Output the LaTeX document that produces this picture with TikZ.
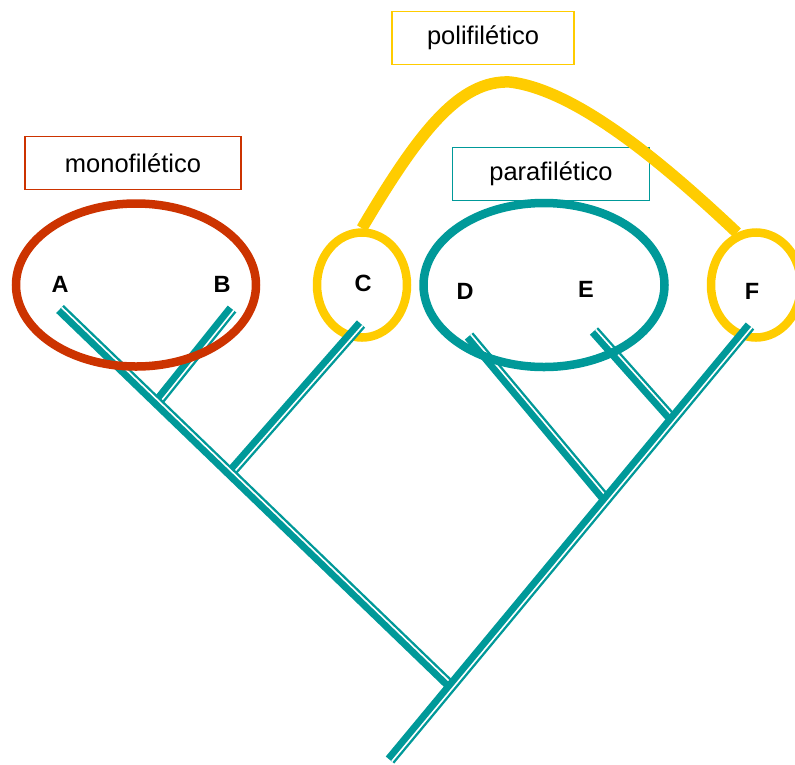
\documentclass[tikz,border=0pt]{standalone}
\usepackage{fontspec}
\setmainfont{Liberation Sans}
\usetikzlibrary{calc,shapes.geometric}
\definecolor{Teal}{HTML}{009999}
\definecolor{Rust}{HTML}{CC3300}
\definecolor{Gold}{HTML}{FFCC00}
\tikzset{
  branch/.style={line width=11pt,color=Teal},
  branchgap/.style={line width=1.6pt,color=white},
  clade/.style={ellipse,draw,line width=8.5pt,inner sep=0pt},
  cladebox/.style={draw,line width=1.8pt,minimum width=#1,minimum height=53pt,
    inner sep=0pt,font=\fontsize{25.5}{30}\selectfont},
  taxon/.style={font=\fontsize{23.5}{28}\selectfont\bfseries},
  arcline/.style={line width=11.5pt,color=Gold}
}
\newcommand\cladebranch[2]{%
  \draw[branch] (#1) -- (#2);
  \draw[branchgap] ($(#1)!2.3pt!-90:(#2)$) -- ($(#2)!2.3pt!90:(#1)$);
}

\begin{document}
\begin{tikzpicture}[x=1pt,y=-1pt]
  \useasboundingbox (0,0) rectangle (795,764);
  % tree
  \coordinate (root) at (390,760);
  \coordinate (ftip) at (750,326);
  \coordinate (atip) at (60,309);
  \coordinate (btip) at (232,309);
  \coordinate (ctip) at (361,324);
  \coordinate (dtip) at (469,336);
  \coordinate (etip) at (594,331);
  \coordinate (rootj) at ($(root)!0.17!(ftip)$);
  \coordinate (dj) at ($(root)!0.6!(ftip)$);
  \coordinate (ej) at ($(root)!0.785!(ftip)$);
  \coordinate (cj) at ($(rootj)!0.565!(atip)$);
  \coordinate (abj) at ($(rootj)!0.752!(atip)$);
  % groups
  \node[clade,draw=Gold,minimum width=90pt,minimum height=105pt] (cladeC) at (362,285) {};
  \node[clade,draw=Gold,minimum width=90pt,minimum height=105pt] (cladeF) at (756,285) {};
  \cladebranch{abj}{btip}
  \cladebranch{cj}{ctip}
  \cladebranch{rootj}{atip}
  \cladebranch{dj}{dtip}
  \cladebranch{ej}{etip}
  \cladebranch{root}{ftip}
  \node[clade,draw=Rust,minimum width=240pt,minimum height=163pt] (cladeAB) at (136,285) {};
  \node[clade,draw=Teal,minimum width=241pt,minimum height=164pt] (cladeDE) at (544,285) {};
  % labels
  \node[taxon] (labA) at (60,284) {A};
  \node[taxon] (labB) at (222,284) {B};
  \node[taxon] (labC) at (363,283) {C};
  \node[taxon] (labD) at (465,291) {D};
  \node[taxon] (labE) at (586,289) {E};
  \node[taxon] (labF) at (752,291) {F};
  \node[cladebox=216pt,draw=Rust] (monobox) at (133,163) {monofilético};
  \node[cladebox=182pt,draw=Gold] (polibox) at (483,38) {polifilético};
  \node[cladebox=197pt,draw=Teal] (parabox) at (551,174) {parafilético};
  \coordinate (arcpeak) at (510,82);
  \draw[arcline] (cladeC.north) .. controls (420,130) and (460,80) .. (arcpeak)
    .. controls (575,90) and (660,160) .. (cladeF.110);
\end{tikzpicture}
\end{document}
